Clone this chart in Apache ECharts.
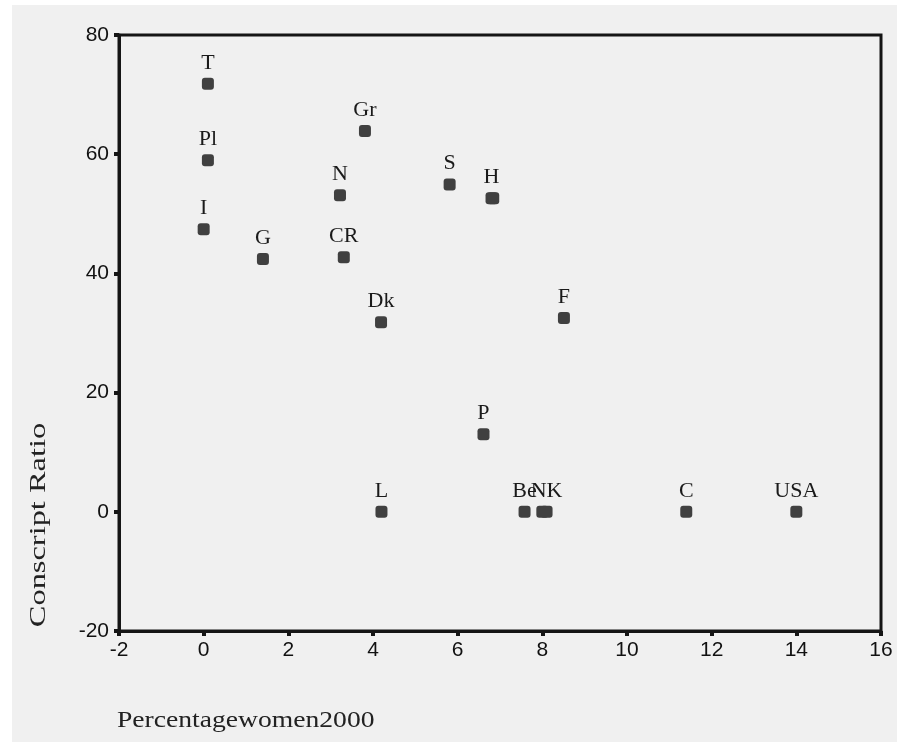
<!DOCTYPE html>
<html>
<head>
<meta charset="utf-8">
<script src="https://cdn.jsdelivr.net/npm/echarts@6/dist/echarts.min.js"></script>
<style>
html,body{margin:0;padding:0;background:#fff;}
#chart{width:907px;height:742px;}
</style>
</head>
<body>
<div id="chart"></div>
<script>
// Data
var pointLabels = ['T', 'Pl', 'I', 'G', 'N', 'CR', 'Gr', 'Dk', 'L', 'S', 'H', '', 'F', 'P', 'Be', '', 'NK', 'C', 'USA'];
var percentWomen = [0.1, 0.1, 0.0, 1.4, 3.22, 3.31, 3.81, 4.19, 4.2, 5.81, 6.8, 6.84, 8.51, 6.61, 7.58, 8.0, 8.1, 11.4, 14.0];
var conscriptRatio = [71.8, 59.0, 47.4, 42.4, 53.1, 42.7, 63.9, 31.8, 0, 54.9, 52.6, 52.6, 32.5, 13.0, 0, 0, 0, 0, 0];
var xTicks = { min: -2, max: 16, interval: 2 };
var yTicks = { min: -20, max: 80, interval: 20 };
var xName = 'Percentagewomen2000';
var yName = 'Conscript Ratio';

var seriesData = percentWomen.map(function (x, i) {
  return { value: [x, conscriptRatio[i]], name: pointLabels[i] };
});

var chart = echarts.init(document.getElementById('chart'), null, { renderer: 'canvas' });
var axisColor = '#151515';
chart.setOption({
  animation: false,
  backgroundColor: '#ffffff',
  graphic: [
    { type: 'rect', z: -100, silent: true, shape: { x: 12, y: 5, width: 885, height: 737 }, style: { fill: '#f0f0f0' } },
    { type: 'text', z: 100, x: 39, y: 525, rotation: Math.PI / 2, scaleX: 1.35,
      style: { text: yName, font: '24px "Liberation Serif"', fill: '#222', textAlign: 'center', textVerticalAlign: 'middle' } },
    { type: 'text', z: 100, x: 117, y: 721, scaleX: 1.2,
      style: { text: xName, font: '23px "Liberation Serif"', fill: '#222', textAlign: 'left', textVerticalAlign: 'middle' } }
  ],
  grid: {
    left: 119, top: 35, right: 26, bottom: 111,
    show: true, backgroundColor: '#f0f0f0', borderColor: axisColor, borderWidth: 3
  },
  xAxis: {
    type: 'value', min: xTicks.min, max: xTicks.max, interval: xTicks.interval,
    axisLine: { show: true, onZero: false, lineStyle: { color: axisColor, width: 3 } },
    axisTick: { show: true, length: 5, lineStyle: { color: axisColor, width: 4 } },
    splitLine: { show: false },
    axisLabel: { color: '#111', fontSize: 21, fontFamily: '"Liberation Sans", Arial', margin: 9 }
  },
  yAxis: {
    type: 'value', min: yTicks.min, max: yTicks.max, interval: yTicks.interval,
    axisLine: { show: true, onZero: false, lineStyle: { color: axisColor, width: 3 } },
    axisTick: { show: true, length: 5, lineStyle: { color: axisColor, width: 4 } },
    splitLine: { show: false },
    axisLabel: { color: '#111', fontSize: 21, fontFamily: '"Liberation Sans", Arial', margin: 10 }
  },
  series: [{
    type: 'scatter',
    data: seriesData,
    symbol: 'roundRect',
    symbolSize: 12,
    itemStyle: { color: '#404040', opacity: 1 },
    label: {
      show: true, position: 'top', distance: 4,
      formatter: function (p) { return p.name; },
      color: '#1a1a1a', fontSize: 22, fontFamily: '"Liberation Serif", "Times New Roman", serif'
    },
    labelLayout: { hideOverlap: false }
  }]
});
</script>
</body>
</html>
